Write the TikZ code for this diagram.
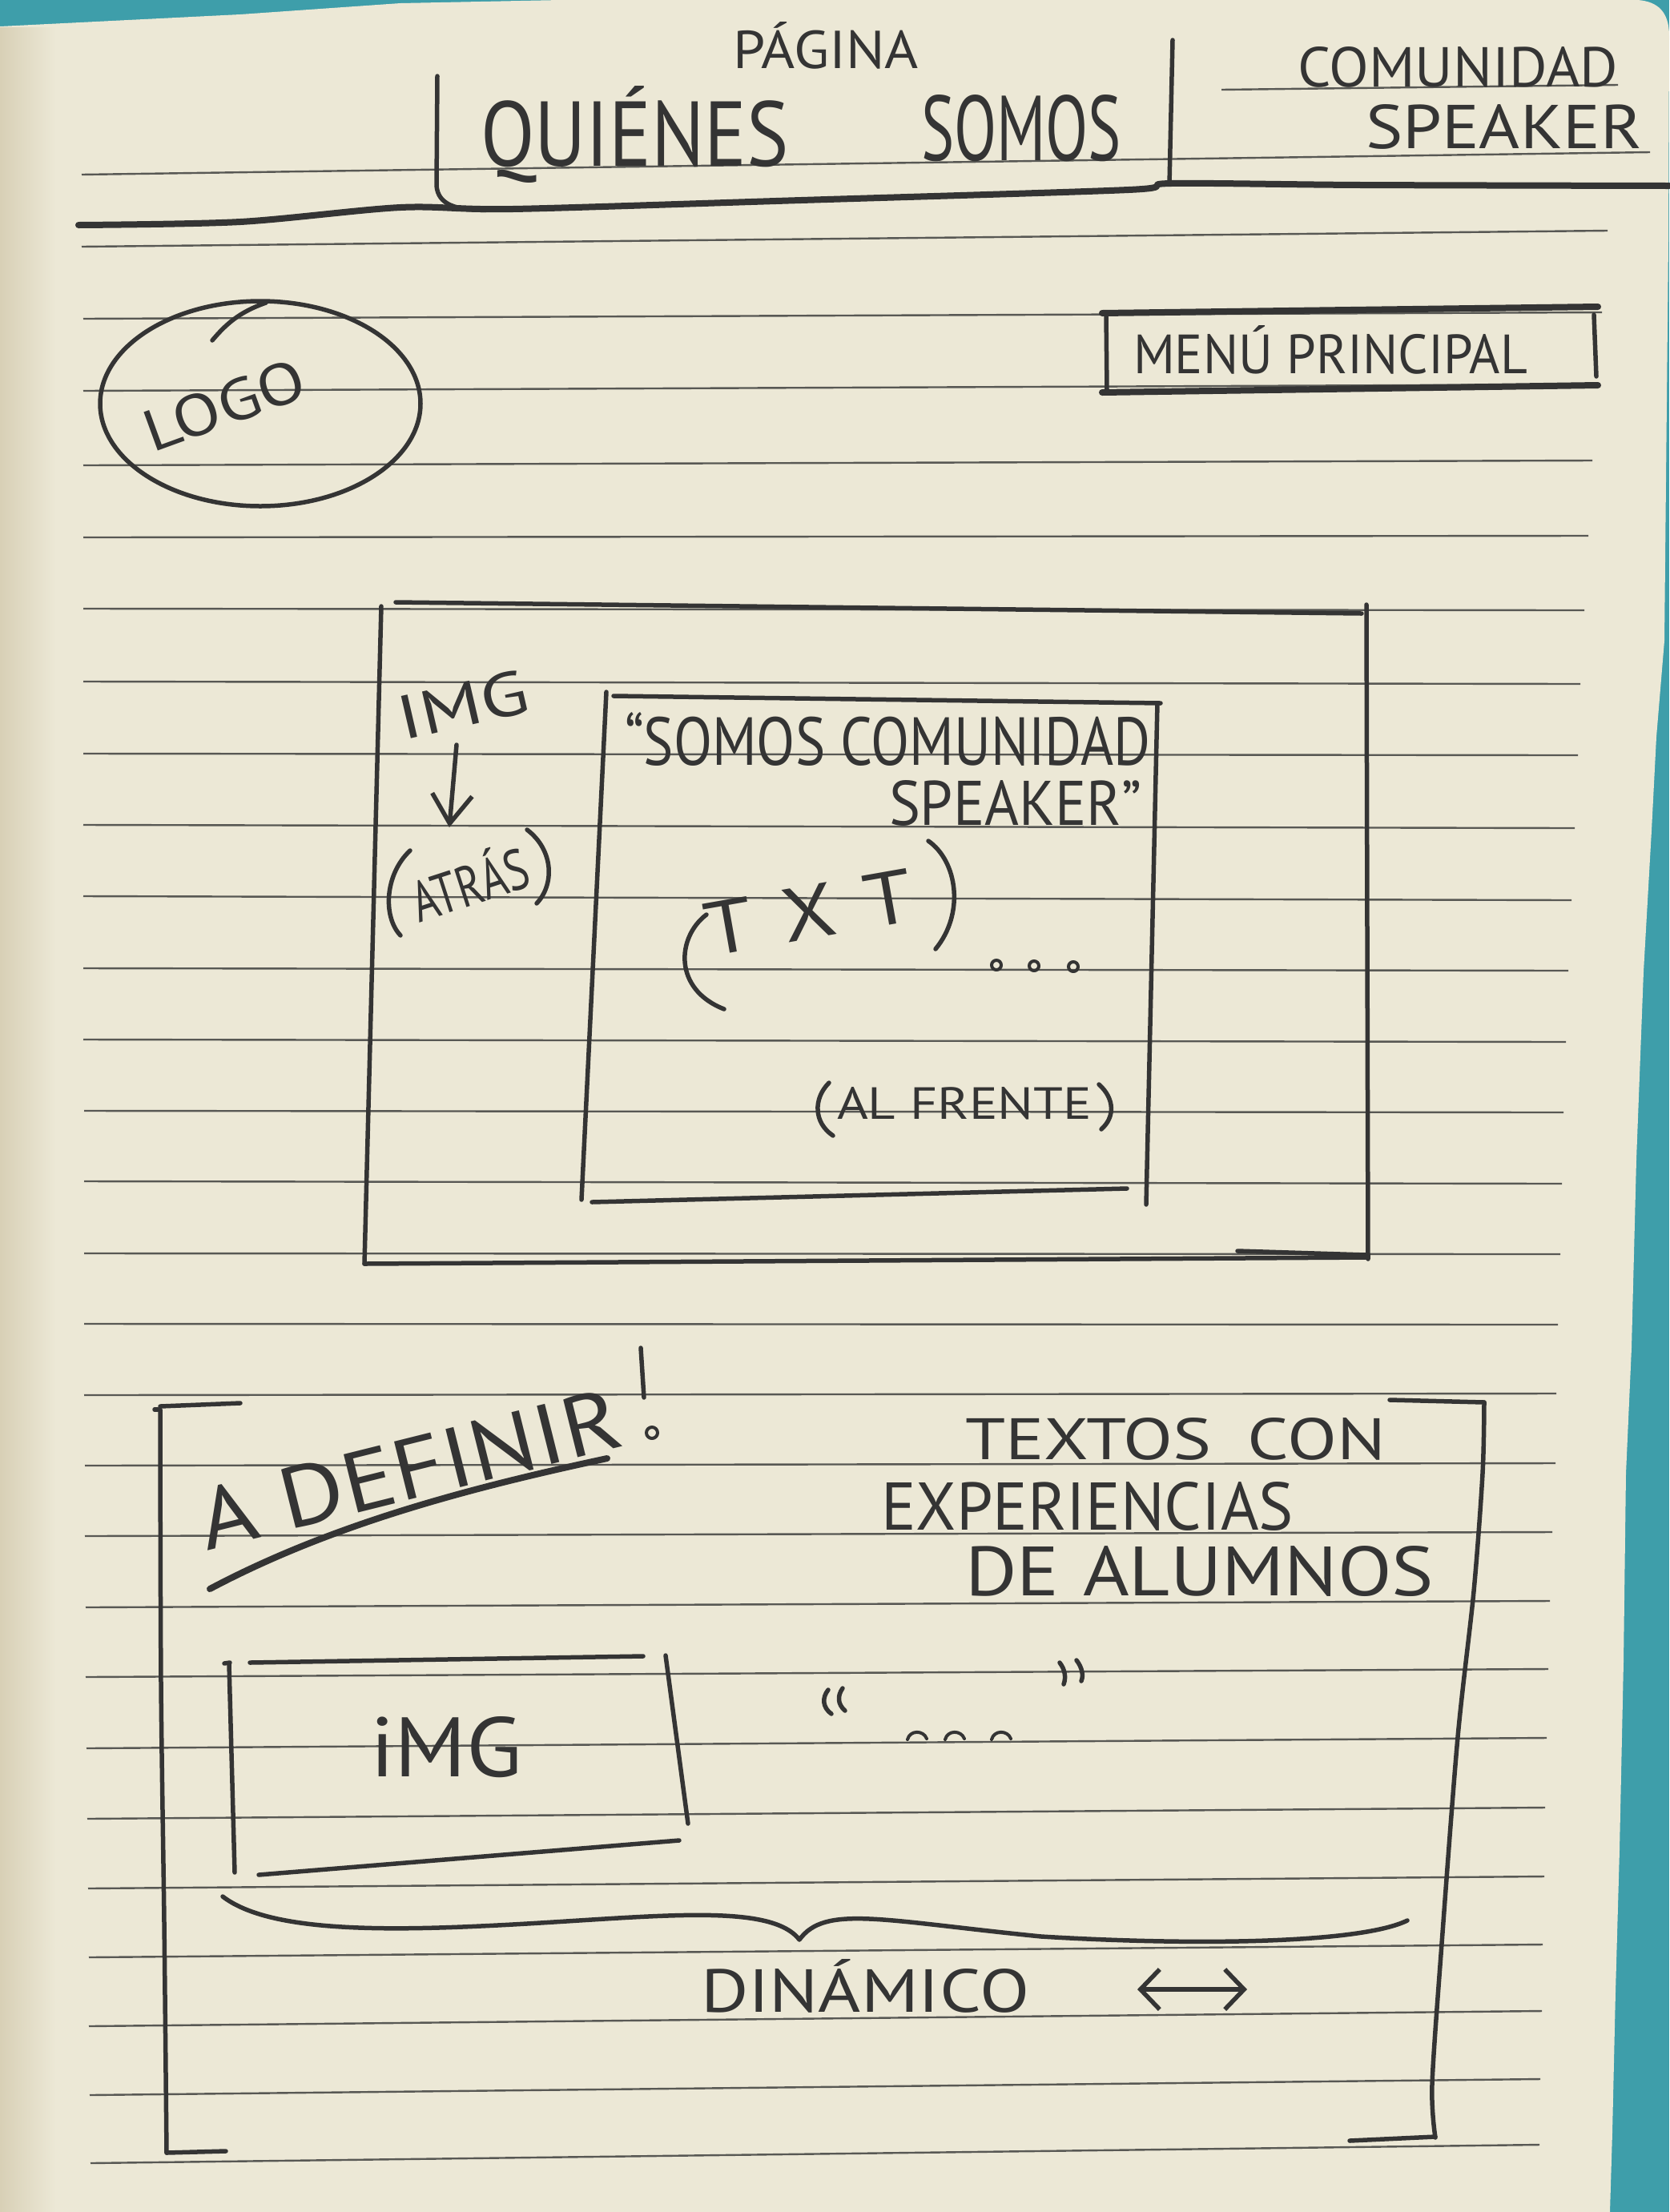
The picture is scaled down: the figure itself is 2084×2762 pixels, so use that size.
\documentclass[tikz,border=0pt]{standalone}
\usepackage{fontspec}
\setmainfont{PT Sans}
\usepackage{graphicx}
\usetikzlibrary{arrows.meta}
\newdimen\pxu
\pxu=0.1mm
% hand lettering: text forced into a box of given width and height (units of 0.1mm)
\newcommand{\hw}[3]{\resizebox{#1\pxu}{#2\pxu}{#3}}
\definecolor{paper}{RGB}{236,232,214}
\definecolor{paperedge}{RGB}{216,208,182}
\definecolor{deskteal}{RGB}{62,158,170}
\definecolor{pencilink}{RGB}{52,52,52}
\definecolor{ruleink}{RGB}{88,88,84}
\begin{document}
\begin{tikzpicture}[x=0.1mm,y=-0.1mm,
  ruled/.style={draw=ruleink, line width=0.24mm},
  pencil/.style={draw=pencilink, line width=0.55mm, line cap=round, line join=round},
  heavy/.style={pencil, line width=0.8mm},
  thinpen/.style={pencil, line width=0.4mm},
  hand/.style={inner sep=0pt, outer sep=0pt, text=pencilink},
  barb/.style={-{Straight Barb[length=3.6mm,width=5mm]}},
  dbarb/.style={{Straight Barb[length=2.4mm,width=5mm]}-{Straight Barb[length=2.4mm,width=5mm]}}
]
\useasboundingbox (0,0) rectangle (2084,2762);

% desk and notebook page
\fill[deskteal] (0,0) rectangle (2084,2762);
\fill[paper] (0,33) -- (300,18) -- (500,4) -- (700,0) -- (2045,0)
  .. controls (2070,2) and (2084,15) .. (2084,45)
  -- (2083,300) -- (2078,800) -- (2068,920) -- (2062,1037) -- (2052,1213)
  -- (2043,1448) -- (2037,1683) -- (2030,1840) -- (2027,2075) -- (2022,2310)
  -- (2017,2487) -- (2013,2663) -- (2010,2762) -- (0,2762) -- cycle;
\shade[left color=paperedge, right color=paper] (0,34) rectangle (70,2762);

% ruled lines of the page
\draw[ruled] (1525,112) -- (2020,106);
\foreach \xa/\ya/\xb/\yb in {
  102/218/2060/190, 102/308/2007/288, 104/398/2000/390, 104/488/1995/480,
  104/581/1988/575, 104/671/1983/669, 104/760/1978/762, 104/851/1973/854,
  104/941/1970/943, 104/1030/1966/1034, 104/1119/1962/1124, 104/1209/1958/1212,
  104/1298/1955/1301, 105/1387/1952/1389, 105/1475/1950/1478, 105/1565/1948/1566,
  105/1653/1945/1654, 105/1742/1943/1740, 106/1830/1942/1827, 106/1918/1938/1913,
  107/2007/1935/1999, 107/2094/1933/2084, 108/2183/1931/2170, 109/2271/1929/2257,
  110/2358/1928/2343, 111/2444/1926/2428, 111/2530/1925/2511, 112/2616/1923/2596,
  113/2701/1922/2678}
  \draw[ruled] (\xa,\ya) -- (\xb,\yb);

% ---- header ----
\node[hand, anchor=base west] (pagina) at (915,85) {\hw{232}{58}{PÁGINA}};
\node[hand, anchor=base west] (quienes) at (600,207) {\hw{385}{100}{QUIÉNES}};
\node[hand, anchor=base west] (somos) at (1150,200) {\hw{250}{82}{SOMOS}};
\node[hand, anchor=base west] (comunidad) at (1620,108) {\hw{400}{50}{COMUNIDAD}};
\node[hand, anchor=base west] (speaker) at (1705,185) {\hw{345}{55}{SPEAKER}};
% title frame and the long separating stroke
\draw[pencil] (546,95) -- (545,232) .. controls (547,255) and (568,264) .. (615,262);
\draw[pencil] (1464,50) -- (1460,230);
\draw[heavy] plot[smooth] coordinates {(98,281) (300,277) (500,259) (640,261)
  (1000,250) (1409,237) (1462,229) (1700,231) (2084,232)};

% ---- logo and main menu ----
\draw[pencil] (325,504) ellipse [x radius=200, y radius=128];
\draw[pencil] (265,425) .. controls (282,405) and (298,390) .. (332,378);
\node[hand, rotate=20] (logo) at (280,506) {\hw{210}{52}{LOGO}};

\draw[heavy] (1376,391) -- (1995,383);
\draw[heavy] (1376,490) -- (1995,481);
\draw[pencil] (1381,393) -- (1382,487);
\draw[pencil] (1990,393) -- (1993,470);
\node[hand, anchor=base west] (menu) at (1415,466) {\hw{492}{60}{MENÚ PRINCIPAL}};

% ---- hero block: image behind, text in front ----
\draw[pencil] (494,752) -- (1700,766);
\draw[pencil] (476,757) -- (455,1578);
\draw[pencil] (455,1578) -- (1708,1570);
\draw[pencil] (1706,755) -- (1708,1572);
\draw[pencil] (1545,1562) -- (1706,1567);

\draw[pencil] (766,869) -- (1449,878);
\draw[pencil] (757,864) -- (726,1498);
\draw[pencil] (1445,878) -- (1431,1504);
\draw[pencil] (739,1501) -- (1407,1484);

\node[hand, rotate=13] (imgtop) at (578,880) {\hw{165}{55}{IMG}};
\coordinate (arrowtop) at (570,930);
\coordinate (arrowend) at (561,1033);
\draw[pencil, barb] (arrowtop) -- (arrowend);
\node[hand, rotate=18] (atras) at (585,1100) {\hw{150}{62}{ATRÁS}};
\draw[pencil] (512,1062) .. controls (480,1092) and (478,1145) .. (500,1168);
\draw[pencil] (658,1036) .. controls (692,1062) and (692,1105) .. (670,1128);

\node[hand, anchor=base west] (lema) at (780,955) {\hw{656}{66}{“SOMOS COMUNIDAD}};
\node[hand, anchor=base west] (lemab) at (1110,1030) {\hw{315}{56}{SPEAKER”}};

\node[hand, rotate=10] (txt) at (1010,1139) {\hw{262}{66}{T\hspace{0.35em}X\hspace{0.35em}T}};
\draw[pencil] (882,1142) .. controls (845,1170) and (840,1235) .. (904,1260);
\draw[pencil] (1159,1050) .. controls (1195,1075) and (1205,1140) .. (1168,1185);
\foreach \dx/\dy in {1244/1205, 1291/1206, 1340/1207}
  \draw[thinpen] (\dx,\dy) circle [radius=6];

\node[hand, anchor=base west] (frente) at (1045,1397) {\hw{318}{40}{AL FRENTE}};
\draw[pencil] (1035,1352) .. controls (1015,1372) and (1016,1402) .. (1040,1418);
\draw[pencil] (1372,1354) .. controls (1392,1372) and (1392,1395) .. (1375,1410);

% ---- testimonials block ----
\draw[pencil] (200,1756) -- (300,1752);
\draw[pencil] (193,1760) -- (197,1760);
\draw[pencil] plot[smooth] coordinates {(200,1760) (201,2100) (205,2400) (208,2688)};
\draw[pencil] (208,2688) -- (282,2686);
\draw[pencil] (1735,1748) -- (1853,1751);
\draw[pencil] plot[smooth] coordinates {(1853,1751) (1851,1840) (1840,1987)
  (1820,2169) (1800,2427) (1788,2603) (1792,2669)};
\draw[pencil] (1685,2673) -- (1792,2668);

\node[hand, anchor=base west, rotate=14] (definir) at (258,1936) {\hw{540}{76}{A DEFINIR}};
\draw[heavy] (262,1984) .. controls (420,1900) and (600,1855) .. (758,1821);
\draw[pencil] (800,1683) -- (804,1745);
\draw[thinpen] (814,1789) circle [radius=7];

\node[hand, anchor=base west] (textos) at (1205,1822) {\hw{525}{52}{TEXTOS\hspace{0.5em}CON}};
\node[hand, anchor=base west] (exper) at (1100,1910) {\hw{515}{60}{EXPERIENCIAS}};
\node[hand, anchor=base west] (alumnos) at (1205,1992) {\hw{585}{62}{DE\hspace{0.3em}ALUMNOS}};

\draw[pencil] (312,2076) -- (803,2068);
\draw[pencil] (280,2077) -- (287,2076);
\draw[pencil] (286,2078) -- (293,2338);
\draw[pencil] (831,2067) -- (859,2277);
\draw[pencil] (323,2341) -- (848,2298);
\node[hand, anchor=base west] (imgbot) at (462,2218) {\hw{190}{75}{iMG}};

\draw[pencil] (1034,2110) .. controls (1026,2120) and (1027,2132) .. (1038,2140);
\draw[pencil] (1052,2108) .. controls (1045,2118) and (1046,2128) .. (1055,2136);
\draw[pencil] (1323,2076) .. controls (1330,2085) and (1331,2095) .. (1328,2103);
\draw[pencil] (1344,2073) .. controls (1351,2082) and (1353,2092) .. (1350,2099);
\foreach \cx in {1133,1180,1238}
  \draw[thinpen] (\cx,2172) .. controls (\cx+3,2160) and (\cx+20,2160) .. (\cx+24,2171);

\draw[pencil] (278,2368) .. controls (330,2408) and (450,2412) .. (600,2405)
  .. controls (800,2396) and (960,2372) .. (998,2422)
  .. controls (1030,2378) and (1100,2398) .. (1300,2418)
  .. controls (1500,2430) and (1700,2426) .. (1757,2398);

\node[hand, anchor=base west] (dinamico) at (875,2512) {\hw{410}{66}{DINÁMICO}};
\coordinate (slideleft) at (1420,2484);
\coordinate (slideright) at (1557,2484);
\draw[pencil, dbarb] (slideleft) -- (slideright);
\end{tikzpicture}
\end{document}
